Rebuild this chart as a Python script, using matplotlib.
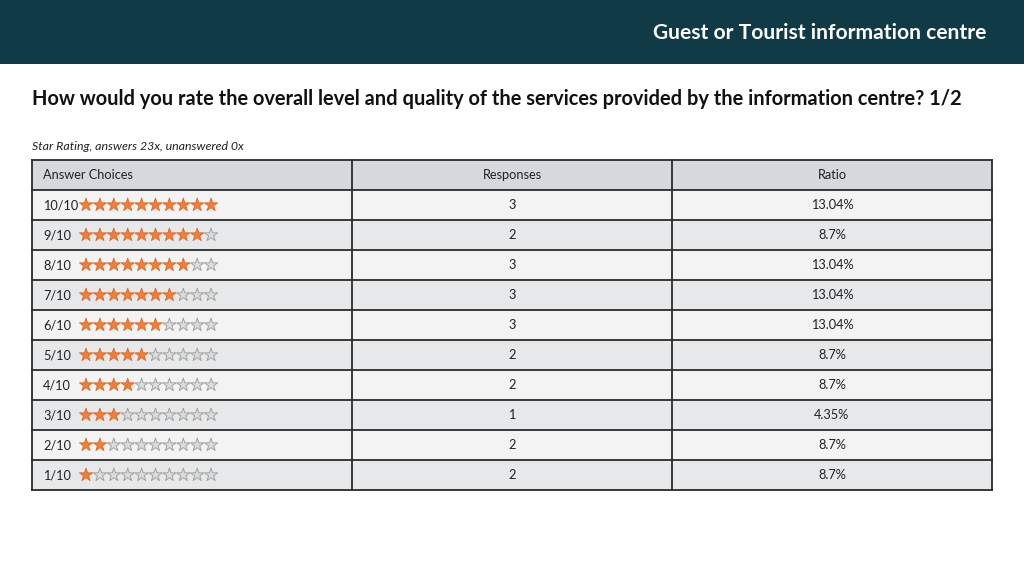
# star rating survey table, drawn with matplotlib patches and text
import matplotlib.pyplot as plt
from matplotlib.patches import Rectangle

plt.rcParams['font.family'] = ['Lato', 'DejaVu Sans']

# data
choices = ["10/10", "9/10", "8/10", "7/10", "6/10", "5/10", "4/10", "3/10", "2/10", "1/10"]
stars = [10, 9, 8, 7, 6, 5, 4, 3, 2, 1]
responses = [3, 2, 3, 3, 3, 2, 2, 1, 2, 2]
ratios = ["13.04%", "8.7%", "13.04%", "13.04%", "13.04%", "8.7%", "8.7%", "4.35%", "8.7%", "8.7%"]
columns = ["Answer Choices", "Responses", "Ratio"]

header_text = "Guest or Tourist information centre"
title = "How would you rate the overall level and quality of the services provided by the information centre? 1/2"
subtitle = "Star Rating, answers 23x, unanswered 0x"

# layout in pixels
W, H = 1024, 576
left, right = 32, 992
col_x = [32, 352, 672, 992]
top = 160
row_h = 30

fig = plt.figure(figsize=(W / 100, H / 100), dpi=100)
ax = fig.add_axes([0, 0, 1, 1])
ax.set_xlim(0, W)
ax.set_ylim(H, 0)
ax.axis("off")

# header band
ax.add_patch(Rectangle((0, 0), W, 64, color="#0f3a46", lw=0))
ax.text(986, 33, header_text, color="white", fontsize=15.1, fontweight="bold",
        ha="right", va="center")

ax.text(32, 99, title, fontsize=14.4, fontweight="bold", va="center", color="#111111")
ax.text(32, 146, subtitle, fontsize=8.9, style="italic", va="center", color="#222222")

# table header
ax.add_patch(Rectangle((left, top), right - left, row_h, color="#d5d8dc", lw=0))
ax.text(43, top + row_h / 2, columns[0], fontsize=9.2, va="center", color="#222222")
for i in (1, 2):
    ax.text((col_x[i] + col_x[i + 1]) / 2, top + row_h / 2, columns[i],
            fontsize=9.2, ha="center", va="center", color="#222222")

# rows
for r, label in enumerate(choices):
    y0 = top + row_h * (r + 1)
    yc = y0 + row_h / 2
    bg = "#f3f3f3" if r % 2 == 0 else "#e7e8ea"
    ax.add_patch(Rectangle((left, y0), right - left, row_h, color=bg, lw=0))
    ax.text(43, yc, label, fontsize=9.2, va="center", color="#222222")
    xs = [86 + 13.9 * k for k in range(10)]
    cols = ["#f07f3c" if k < stars[r] else "#dcdcdc" for k in range(10)]
    edges = ["#d9682a" if k < stars[r] else "#9a9a9a" for k in range(10)]
    ax.scatter(xs, [yc] * 10, marker="*", s=100, c=cols, edgecolors=edges,
               linewidths=0.6, zorder=3)
    ax.text((col_x[1] + col_x[2]) / 2, yc, str(responses[r]), fontsize=9.2,
            ha="center", va="center", color="#222222")
    ax.text((col_x[2] + col_x[3]) / 2, yc, ratios[r], fontsize=9.2,
            ha="center", va="center", color="#222222")

# grid lines
bottom = top + row_h * (len(choices) + 1)
for k in range(len(choices) + 2):
    y = top + row_h * k
    ax.plot([left, right], [y, y], color="#2a2a2a", lw=1.3, zorder=4)
for x in col_x:
    ax.plot([x, x], [top, bottom], color="#2a2a2a", lw=1.3, zorder=4)

plt.savefig("out.png", dpi=100)
